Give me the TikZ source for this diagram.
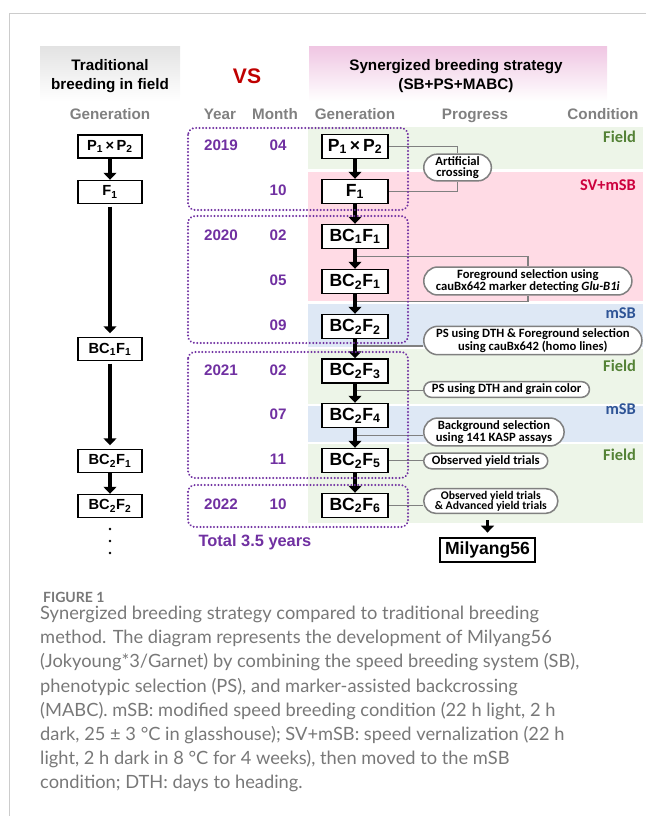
\documentclass[tikz,border=0pt]{standalone}
\usepackage{fontspec}
\setmainfont{Liberation Sans}
\newfontfamily\calib{Carlito}
\newfontfamily\capfont{Lato}
\usetikzlibrary{arrows.meta,shapes.misc}
\definecolor{purp}{rgb}{0.44,0.19,0.63}
\definecolor{fieldgreen}{rgb}{0.33,0.51,0.21}
\definecolor{svred}{rgb}{0.80,0.0,0.24}
\definecolor{msbblue}{rgb}{0.18,0.33,0.59}
\definecolor{bandgreen}{rgb}{0.93,0.96,0.91}
\definecolor{bandpink}{rgb}{1.0,0.86,0.90}
\definecolor{bandblue}{rgb}{0.87,0.91,0.96}
\definecolor{headgray}{rgb}{0.89,0.89,0.89}
\definecolor{headpink}{rgb}{0.94,0.78,0.89}
\definecolor{txtgray}{rgb}{0.5,0.5,0.5}
\definecolor{capgray}{rgb}{0.47,0.47,0.47}
\definecolor{framegray}{rgb}{0.8,0.8,0.8}
\pgfdeclarelayer{back}
\pgfsetlayers{back,main}

\begin{document}
\begin{tikzpicture}
      [x = 0.03cm, y = -0.03cm,
      gen/.style= {
         draw,
         line width = 1.2pt,
         fill = white,
         minimum width = 1.98cm,
         minimum height = 0.72cm,
         inner sep = 0pt,
         font = \bfseries\fontsize{15}{15}\selectfont
      },
      oldgen/.style= {
         gen,
         minimum width = 1.92cm,
         minimum height = 0.69cm,
         font = \bfseries\fontsize{12.5}{12.5}\selectfont
      },
      fat/.style= {line width = 2.8pt, -{Triangle[width=11pt,length=6pt]}},
      link/.style= {draw = gray, line width = 1.2pt},
      pill/.style= {
         draw = gray,
         line width = 1.3pt,
         fill = white,
         rounded rectangle,
         anchor = west,
         inner xsep = 5pt,
         inner ysep = 2pt,
         align = center,
         font = \calib\bfseries\fontsize{10.8}{9.3}\selectfont
      },
      period/.style= {
         draw = purp,
         line width = 1.9pt,
         line cap = round,
         dash pattern = on 0.01pt off 2.9pt,
         rounded corners = 6pt
      },
      when/.style= {text = purp, text height = 0.72em, text depth = 0pt, font = \bfseries\fontsize{13}{13}\selectfont},
      colhead/.style= {text = txtgray, text height = 0.72em, text depth = 0.2em, font = \bfseries\fontsize{13}{13}\selectfont},
      cond/.style= {anchor = east, font = \calib\bfseries\fontsize{14}{14}\selectfont}]

      \useasboundingbox (0, 0) rectangle (646, 816);
      \draw[draw = framegray, line width = 0.8pt] (646, 13) -- (9, 13) -- (9, 816);

      % headers
      \shade[top color = headgray, bottom color = white] (40, 47) rectangle (180, 101);
      \shade[top color = headpink, bottom color = white] (309, 47) rectangle (607, 101);
      \node[align = center, font = \bfseries\fontsize{13}{16.2}\selectfont] (trad) at (110, 76) {Traditional\\breeding in field};
      \node[text = red!75!black, font = \bfseries\fontsize{18}{18}\selectfont] (vs) at (247, 76) {VS};
      \node[align = center, font = \bfseries\fontsize{13}{16.2}\selectfont] (syn) at (456, 76) {Synergized breeding strategy\\(SB+PS+MABC)};

      \node[colhead] (hgen1) at (110, 116.5) {Generation};
      \node[colhead] (hyear) at (220, 116.5) {Year};
      \node[colhead] (hmonth) at (275, 116.5) {Month};
      \node[colhead] (hgen2) at (355, 116.5) {Generation};
      \node[colhead] (hprog) at (475, 116.5) {Progress};
      \node[colhead] (hcond) at (603, 116.5) {Condition};

      % condition bands
      \begin{pgfonlayer}{back}
      \fill[bandgreen] (308, 127) rectangle (643, 169);
      \fill[bandpink] (308, 172) rectangle (643, 301);
      \fill[bandblue] (308, 304) rectangle (643, 347);
      \fill[bandgreen] (308, 349) rectangle (643, 404);
      \fill[bandblue] (308, 406) rectangle (643, 442);
      \fill[bandgreen] (308, 444) rectangle (643, 523);
      \end{pgfonlayer}

      \node[cond, text = fieldgreen] (c1) at (640, 137) {Field};
      \node[cond, text = svred] (c2) at (640, 185) {SV+mSB};
      \node[cond, text = msbblue] (c3) at (640, 313) {mSB};
      \node[cond, text = fieldgreen] (c4) at (640, 366) {Field};
      \node[cond, text = msbblue] (c5) at (640, 409) {mSB};
      \node[cond, text = fieldgreen] (c6) at (640, 455) {Field};

      % traditional breeding
      \node[oldgen] (t1) at (110, 146.5) {P\textsubscript{1}\,×\,P\textsubscript{2}};
      \node[oldgen] (t2) at (110, 192) {F\textsubscript{1}};
      \node[oldgen] (t3) at (110, 349) {BC\textsubscript{1}F\textsubscript{1}};
      \node[oldgen] (t4) at (110, 461) {BC\textsubscript{2}F\textsubscript{1}};
      \node[oldgen] (t5) at (110, 506) {BC\textsubscript{2}F\textsubscript{2}};
      \draw[fat] (t1.south) -- (t2.north);
      \draw[fat, shorten <= 2pt, shorten >= 3pt] (t2.south) -- (t3.north);
      \draw[fat, shorten <= 2pt, shorten >= 3pt] (t3.south) -- (t4.north);
      \draw[fat] (t4.south) -- (t5.north);
      \fill (110, 529) circle (1.4) (110, 541) circle (1.4) (110, 553) circle (1.4);

      % synergized breeding
      \node[gen] (s1) at (355, 146.5) {P\textsubscript{1}\,×\,P\textsubscript{2}};
      \node[gen] (s2) at (355, 191.5) {F\textsubscript{1}};
      \node[gen] (s3) at (355, 236.5) {BC\textsubscript{1}F\textsubscript{1}};
      \node[gen] (s4) at (355, 281.5) {BC\textsubscript{2}F\textsubscript{1}};
      \node[gen] (s5) at (355, 326.5) {BC\textsubscript{2}F\textsubscript{2}};
      \node[gen] (s6) at (355, 371) {BC\textsubscript{2}F\textsubscript{3}};
      \node[gen] (s7) at (355, 415.5) {BC\textsubscript{2}F\textsubscript{4}};
      \node[gen] (s8) at (355, 460.5) {BC\textsubscript{2}F\textsubscript{5}};
      \node[gen] (s9) at (355, 505.5) {BC\textsubscript{2}F\textsubscript{6}};
      \foreach \a/\b in {1/2, 2/3, 3/4, 4/5, 5/6, 6/7, 7/8, 8/9}
         \draw[fat] (s\a.south) -- coordinate[pos = .36] (j\a) (s\b.north);

      \node[when] (y1) at (221, 146.5) {2019};
      \node[when] (y2) at (221, 236.5) {2020};
      \node[when] (y3) at (221, 371) {2021};
      \node[when] (y4) at (221, 505.5) {2022};
      \node[when] (m1) at (278, 146.5) {04};
      \node[when] (m2) at (278, 191.5) {10};
      \node[when] (m3) at (278, 236.5) {02};
      \node[when] (m4) at (278, 281.5) {05};
      \node[when] (m5) at (278, 326.5) {09};
      \node[when] (m6) at (278, 371) {02};
      \node[when] (m7) at (278, 415.5) {07};
      \node[when] (m8) at (278, 460.5) {11};
      \node[when] (m9) at (278, 505.5) {10};

      \draw[period] (188, 128) rectangle (408, 210);
      \draw[period] (188, 216) rectangle (408, 343);
      \draw[period] (188, 352) rectangle (408, 478);
      \draw[period] (188, 485) rectangle (408, 527);
      \node[text = purp, font = \bfseries\fontsize{14}{14}\selectfont] (total) at (255, 542) {Total 3.5 years};

      % progress
      \node[pill] (cross) at (423, 167.5) {Artificial\\crossing};
      \node[pill] (fg) at (423, 281) {Foreground selection using\\cauBx642 marker detecting \textit{Glu-B1i}};
      \node[pill] (psfg) at (423, 340.5) {PS using DTH \& Foreground selection\\using cauBx642 (homo lines)};
      \node[pill] (psg) at (423, 389.5) {PS using DTH and grain color};
      \node[pill] (bg) at (423, 432) {Background selection\\using 141 KASP assays};
      \node[pill] (oyt) at (423, 461) {Observed yield trials};
      \node[pill, font = \calib\bfseries\fontsize{10}{8.6}\selectfont] (ayt) at (423, 501) {Observed yield trials\\\& Advanced yield trials};
      \node[gen, minimum width = 2.85cm] (mil) at (487.5, 550) {Milyang56};
      \draw[fat, shorten <= 5pt, shorten >= 4pt] (mil.north |- ayt.south) -- (mil.north);

      \begin{pgfonlayer}{back}
      \draw[link] (s1.east) -| (cross.north);
      \draw[link] (s2.east) -| (cross.south);
      \draw[link] (j3) -| (fg.north);
      \draw[link] (j4) -| (fg.south);
      \draw[link] (j5) -- (j5 -| psfg.west);
      \draw[link] (j6) -- (j6 -| psg.west);
      \draw[link] (j7) -- (j7 -| bg.west);
      \draw[link] (s8.east) -- (s8.east -| oyt.west);
      \draw[link] (s9.east) -- (s9.east -| ayt.west);
      \end{pgfonlayer}

      % caption
      \node[anchor = west, text = capgray, font = \capfont\bfseries\fontsize{12}{12}\selectfont] (fig) at (39, 597) {FIGURE 1};
      \node[anchor = north west, align = left, text = capgray, inner sep = 0pt,
         font = \capfont\fontsize{15.6}{20.6}\selectfont] (cap) at (40, 606)
         {Synergized breeding strategy compared to traditional breeding\\
         method. The diagram represents the development of Milyang56\\
         (Jokyoung*3/Garnet) by combining the speed breeding system (SB),\\
         phenotypic selection (PS), and marker-assisted backcrossing\\
         (MABC). mSB: modified speed breeding condition (22 h light, 2 h\\
         dark, 25 ± 3 °C in glasshouse); SV+mSB: speed vernalization (22 h\\
         light, 2 h dark in 8 °C for 4 weeks), then moved to the mSB\\
         condition; DTH: days to heading.};

   \end{tikzpicture}
\end{document}
